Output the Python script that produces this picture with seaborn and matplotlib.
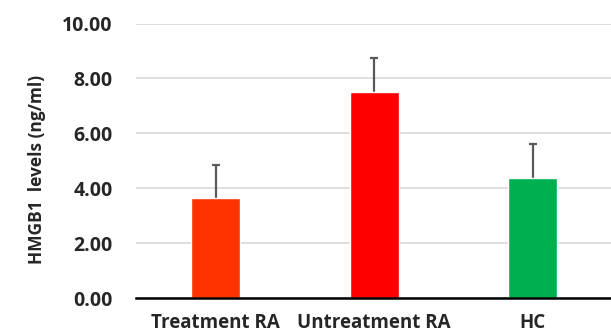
import numpy as np
import pandas as pd
import matplotlib
matplotlib.use("Agg")
import matplotlib.pyplot as plt
import seaborn as sns

groups = ["Treatment RA", "Untreatment RA", "HC"]
means = [3.63, 7.52, 4.38]
sd = [1.22, 1.21, 1.22]
colors = ["#FF3300", "#FF0000", "#00B050"]
yticks = [0, 2, 4, 6, 8, 10]

df = pd.DataFrame({"group": groups, "level": means})

sns.set_style("white")
plt.rcParams["font.family"] = ["Open Sans", "DejaVu Sans"]

fig = plt.figure(figsize=(6.11, 3.36), dpi=100)
ax = fig.add_axes([0.223, 0.113, 0.779, 0.817])

# error bars drawn behind the bars so only the upper half shows
ax.errorbar(np.arange(len(groups)), means, yerr=sd,
            fmt="none", ecolor="#595959", elinewidth=1.6, capsize=3,
            capthick=1.6, zorder=1)

sns.barplot(data=df, x="group", y="level", hue="group", palette=colors,
            saturation=1, width=0.31, errorbar=None, legend=False, ax=ax,
            zorder=2)

ax.set_ylim(0, 10)
ax.set_yticks(yticks)
ax.set_yticklabels([f"{v:.2f}" for v in yticks], fontsize=14, fontweight="bold")
ax.set_xlim(-0.5, 2.5)
for lbl in ax.get_xticklabels():
    lbl.set_fontsize(13.5)
    lbl.set_fontweight("bold")
ax.tick_params(axis="x", length=0, pad=11)
ax.tick_params(axis="y", length=0, pad=17)

ax.yaxis.grid(True, color="#D9D9D9", linewidth=1.2, zorder=0)
ax.set_axisbelow(True)
for s in ["top", "right", "left"]:
    ax.spines[s].set_visible(False)
ax.spines["bottom"].set_color("black")
ax.spines["bottom"].set_linewidth(1.8)
ax.spines["bottom"].set_zorder(4)

ax.set_xlabel("")
ax.set_ylabel("HMGB1  levels (ng/ml)", fontsize=12.5, fontweight="bold")
ax.yaxis.set_label_coords(-0.19, 0.47)

fig.savefig("out.png", dpi=100)
